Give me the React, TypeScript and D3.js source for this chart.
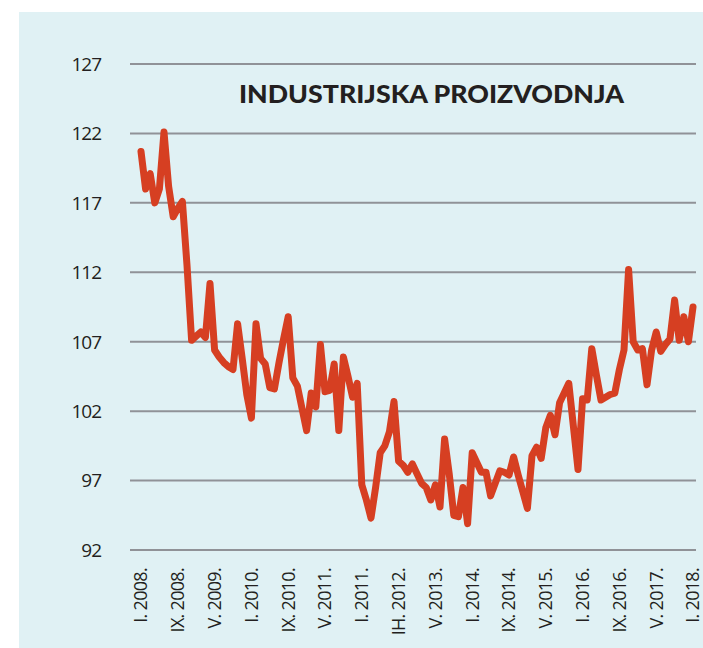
import * as d3 from "d3";

// monthly index values, I.2008. - I.2018.
const values = [
    120.7, 118.0, 119.1, 117.0, 118.0, 122.1, 118.2, 116.0, 116.6, 117.1, 112.5, 107.1,
    107.4, 107.7, 107.3, 111.2, 106.4, 105.9, 105.5, 105.2, 105.0, 108.3, 105.8, 103.2,
    101.5, 108.3, 105.8, 105.4, 103.7, 103.6, 105.5, 107.2, 108.8, 104.4, 103.8, 102.2,
    100.6, 103.3, 102.3, 106.8, 103.4, 103.5, 105.4, 100.6, 105.9, 104.5, 103.0, 104.0,
    96.7, 95.6, 94.3, 96.5, 99.0, 99.5, 100.5, 102.7, 98.4, 98.1, 97.6, 98.2,
    97.5, 96.8, 96.5, 95.6, 96.7, 95.1, 100.0, 97.5, 94.5, 94.4, 96.5, 93.9,
    99.0, 98.3, 97.6, 97.6, 95.9, 96.8, 97.7, 97.6, 97.4, 98.7, 97.4, 96.2,
    95.0, 98.8, 99.4, 98.6, 100.8, 101.7, 100.3, 102.6, 103.3, 104.0, 100.9, 97.8,
    102.9, 102.8, 106.5, 104.6, 102.8, 103.0, 103.2, 103.3, 105.0, 106.4, 112.2, 107.0,
    106.4, 106.5, 103.9, 106.4, 107.7, 106.3, 106.8, 107.2, 110.0, 107.1, 108.8, 107.0,
    109.5
];

// label every 8th month (typos kept as in the original)
const xLabels = [
    "I. 2008.", "IX. 2008.", "V. 2009.", "I. 2010.", "IX. 2010.", "V. 2011.",
    "I. 2011.", "IH. 2012.", "V. 2013.", "I. 2014.", "IX. 2014.", "V. 2015.",
    "I. 2016.", "IX. 2016.", "V. 2017.", "I. 2018."
];
const labelStep = 8;

const yTicks = [92, 97, 102, 107, 112, 117, 122, 127];

const title = "INDUSTRIJSKA PROIZVODNJA";

const width = 703;
const height = 648;
const gridLeft = 130;
const gridRight = 696;

const App = () => {
    const xScale = d3
        .scaleLinear()
        .domain([0, values.length - 1])
        .range([141, 693]);

    const yScale = d3
        .scaleLinear()
        .domain([92, 127])
        .range([550, 64]);

    const line = d3
        .line<number>()
        .x((d, i) => xScale(i))
        .y((d) => yScale(d));

    return (
        <svg
            width={width}
            height={height}
            viewBox={`0 0 ${width} ${height}`}
            style={{ position: "absolute", left: 0, top: 0, display: "block" }}
        >
            <rect x={0} y={0} width={width} height={height} fill="#ffffff" />
            <rect x={19} y={12} width={width - 19} height={height - 12} fill="#e0f1f4" />

            <g className="grid">
                {yTicks.map((t) => (
                    <line
                        key={t}
                        x1={gridLeft}
                        x2={gridRight}
                        y1={yScale(t)}
                        y2={yScale(t)}
                        stroke="#909297"
                        strokeWidth={2}
                    />
                ))}
            </g>

            <g className="y-axis" fontFamily="'Open Sans', sans-serif" fontSize={19} fill="#231f20">
                {yTicks.map((t) => (
                    <text
                        key={t}
                        x={101}
                        y={yScale(t)}
                        dy="0.36em"
                        textAnchor="end"
                        letterSpacing={-1}
                    >
                        {t}
                    </text>
                ))}
            </g>

            <g className="x-axis" fontFamily="'Open Sans', sans-serif" fontSize={18} fill="#231f20">
                {xLabels.map((l, i) => (
                    <text
                        key={l + i}
                        transform={`translate(${xScale(i * labelStep)},568) rotate(-90)`}
                        dy="0.36em"
                        textAnchor="end"
                        letterSpacing={-0.7}
                    >
                        {l}
                    </text>
                ))}
            </g>

            <text
                x={239}
                y={102.5}
                fontFamily="Lato, sans-serif"
                fontWeight={900}
                fontSize={24}
                fill="#231f20"
                textLength={385}
                lengthAdjust="spacingAndGlyphs"
            >
                {title}
            </text>

            <path
                d={line(values) ?? ""}
                fill="none"
                stroke="#d63f22"
                strokeWidth={7}
                strokeLinejoin="round"
                strokeLinecap="round"
            />
        </svg>
    );
};

export default App;
